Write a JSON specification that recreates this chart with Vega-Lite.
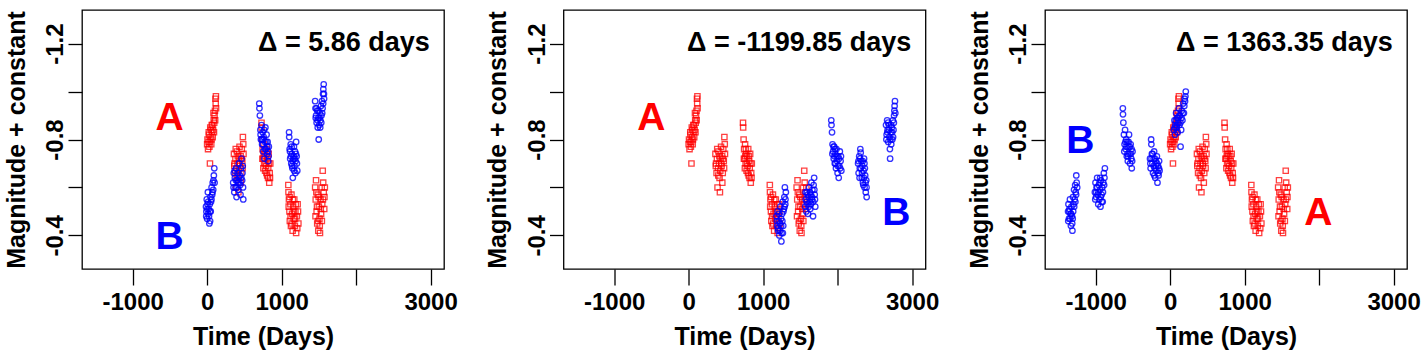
{
"$schema": "https://vega.github.io/schema/vega-lite/v6.json",
"padding": {"left": 3, "top": 9, "right": 2, "bottom": 2},
"background": "white",
"bounds": "flush",
"spacing": 119.5,
"config": {
 "view": {"stroke": "black", "strokeWidth": 1.3},
 "font": "Liberation Sans",
 "axis": {"grid": false, "domain": false, "tickColor": "black", "tickWidth": 1.3, "labelFont": "Liberation Sans", "labelFontSize": 24, "labelFontWeight": "bold", "labelColor": "black", "titleFont": "Liberation Sans", "titleFontSize": 25, "titleFontWeight": "bold", "titleColor": "black", "labelOverlap": false, "labelFlush": false},
 "axisX": {"tickSize": 16, "labelPadding": 24, "labelBaseline": "alphabetic", "labelAlign": "center", "titleBaseline": "alphabetic", "titleAlign": "center", "titleX": 181, "titleY": 75},
 "axisY": {"tickSize": 14, "labelAngle": 270, "labelAlign": "center", "labelBaseline": "alphabetic", "labelPadding": 5.3, "titleAngle": 270, "titleAlign": "center", "titleBaseline": "alphabetic", "titleX": -58, "titleY": 129.5}
},
"datasets": {
 "A": [
  {"t":0,"m":-0.78},{"t":5,"m":-0.80},{"t":12,"m":-0.76},{"t":18,"m":-0.79},{"t":25,"m":-0.82},{"t":30,"m":-0.77},{"t":38,"m":-0.70},{"t":45,"m":-0.81},{"t":50,"m":-0.84},{"t":58,"m":-0.80},{"t":65,"m":-0.83},{"t":72,"m":-0.86},{"t":80,"m":-0.84},{"t":88,"m":-0.88},{"t":95,"m":-0.87},{"t":100,"m":-0.90},{"t":105,"m":-0.92},{"t":112,"m":-0.97},{"t":115,"m":-0.95},{"t":120,"m":-0.93},
  {"t":22,"m":-0.83},{"t":35,"m":-0.79},{"t":42,"m":-0.85},{"t":55,"m":-0.78},{"t":62,"m":-0.86},{"t":75,"m":-0.81},{"t":85,"m":-0.91},{"t":92,"m":-0.83},{"t":108,"m":-0.88},{"t":118,"m":-0.98},
  {"t":360,"m":-0.74},{"t":368,"m":-0.70},{"t":375,"m":-0.66},{"t":380,"m":-0.72},{"t":388,"m":-0.60},{"t":395,"m":-0.68},{"t":400,"m":-0.75},{"t":408,"m":-0.70},{"t":415,"m":-0.64},{"t":420,"m":-0.58},{"t":428,"m":-0.72},{"t":435,"m":-0.77},{"t":442,"m":-0.69},{"t":450,"m":-0.73},{"t":458,"m":-0.66},{"t":465,"m":-0.76},{"t":472,"m":-0.71},{"t":480,"m":-0.81},{"t":488,"m":-0.74},
  {"t":365,"m":-0.69},{"t":384,"m":-0.76},{"t":398,"m":-0.65},{"t":412,"m":-0.73},{"t":425,"m":-0.67},{"t":438,"m":-0.70},{"t":452,"m":-0.62},{"t":462,"m":-0.72},{"t":476,"m":-0.68},{"t":485,"m":-0.78},
  {"t":730,"m":-0.87},{"t":732,"m":-0.85},{"t":738,"m":-0.80},{"t":745,"m":-0.76},{"t":752,"m":-0.72},{"t":758,"m":-0.78},{"t":765,"m":-0.70},{"t":772,"m":-0.74},{"t":778,"m":-0.67},{"t":785,"m":-0.73},{"t":792,"m":-0.69},{"t":800,"m":-0.76},{"t":806,"m":-0.65},{"t":812,"m":-0.71},{"t":820,"m":-0.68},{"t":826,"m":-0.74},{"t":834,"m":-0.62},{"t":840,"m":-0.66},{"t":848,"m":-0.70},
  {"t":742,"m":-0.72},{"t":755,"m":-0.68},{"t":768,"m":-0.76},{"t":782,"m":-0.70},{"t":796,"m":-0.66},{"t":808,"m":-0.73},{"t":818,"m":-0.64},{"t":830,"m":-0.70},{"t":844,"m":-0.64},{"t":760,"m":-0.73},
  {"t":1090,"m":-0.61},{"t":1092,"m":-0.58},{"t":1098,"m":-0.55},{"t":1105,"m":-0.50},{"t":1110,"m":-0.46},{"t":1118,"m":-0.53},{"t":1125,"m":-0.44},{"t":1132,"m":-0.57},{"t":1140,"m":-0.49},{"t":1148,"m":-0.42},{"t":1155,"m":-0.52},{"t":1162,"m":-0.47},{"t":1170,"m":-0.55},{"t":1178,"m":-0.44},{"t":1185,"m":-0.50},{"t":1195,"m":-0.41},{"t":1205,"m":-0.48},{"t":1215,"m":-0.53},{"t":1225,"m":-0.45},
  {"t":1095,"m":-0.52},{"t":1108,"m":-0.56},{"t":1120,"m":-0.48},{"t":1135,"m":-0.45},{"t":1150,"m":-0.55},{"t":1165,"m":-0.50},{"t":1180,"m":-0.47},{"t":1190,"m":-0.53},{"t":1210,"m":-0.43},{"t":1220,"m":-0.50},
  {"t":1450,"m":-0.60},{"t":1458,"m":-0.55},{"t":1462,"m":-0.63},{"t":1470,"m":-0.50},{"t":1478,"m":-0.45},{"t":1485,"m":-0.57},{"t":1492,"m":-0.42},{"t":1500,"m":-0.52},{"t":1508,"m":-0.47},{"t":1515,"m":-0.41},{"t":1522,"m":-0.55},{"t":1530,"m":-0.49},{"t":1538,"m":-0.60},{"t":1545,"m":-0.53},{"t":1552,"m":-0.67},{"t":1558,"m":-0.62},{"t":1565,"m":-0.58},{"t":1572,"m":-0.51},{"t":1580,"m":-0.60},
  {"t":1455,"m":-0.48},{"t":1466,"m":-0.58},{"t":1475,"m":-0.52},{"t":1488,"m":-0.46},{"t":1498,"m":-0.56},{"t":1512,"m":-0.44},{"t":1525,"m":-0.51},{"t":1540,"m":-0.46},{"t":1555,"m":-0.55},{"t":1575,"m":-0.56}
 ],
 "B1": [
  {"t":-15,"m":-0.52},{"t":-10,"m":-0.50},{"t":-5,"m":-0.55},{"t":0,"m":-0.47},{"t":5,"m":-0.53},{"t":10,"m":-0.58},{"t":15,"m":-0.49},{"t":22,"m":-0.51},{"t":30,"m":-0.45},{"t":38,"m":-0.50},{"t":45,"m":-0.56},{"t":52,"m":-0.54},{"t":60,"m":-0.60},{"t":68,"m":-0.57},{"t":75,"m":-0.62},{"t":82,"m":-0.59},{"t":90,"m":-0.65},{"t":96,"m":-0.68},{"t":100,"m":-0.62},
  {"t":-12,"m":-0.48},{"t":2,"m":-0.51},{"t":12,"m":-0.54},{"t":25,"m":-0.48},{"t":35,"m":-0.53},{"t":48,"m":-0.50},{"t":58,"m":-0.55},{"t":72,"m":-0.58},{"t":85,"m":-0.63},{"t":40,"m":-0.46},
  {"t":350,"m":-0.62},{"t":358,"m":-0.66},{"t":365,"m":-0.58},{"t":372,"m":-0.64},{"t":380,"m":-0.60},{"t":388,"m":-0.68},{"t":395,"m":-0.56},{"t":402,"m":-0.63},{"t":410,"m":-0.66},{"t":418,"m":-0.59},{"t":425,"m":-0.70},{"t":432,"m":-0.62},{"t":440,"m":-0.65},{"t":448,"m":-0.57},{"t":455,"m":-0.68},{"t":462,"m":-0.72},{"t":470,"m":-0.63},{"t":478,"m":-0.69},{"t":485,"m":-0.55},
  {"t":355,"m":-0.60},{"t":370,"m":-0.67},{"t":385,"m":-0.63},{"t":398,"m":-0.60},{"t":412,"m":-0.62},{"t":428,"m":-0.64},{"t":444,"m":-0.61},{"t":458,"m":-0.64},{"t":474,"m":-0.66},{"t":482,"m":-0.60},
  {"t":700,"m":-0.95},{"t":702,"m":-0.93},{"t":708,"m":-0.90},{"t":715,"m":-0.84},{"t":722,"m":-0.80},{"t":730,"m":-0.86},{"t":738,"m":-0.78},{"t":745,"m":-0.83},{"t":752,"m":-0.75},{"t":760,"m":-0.81},{"t":768,"m":-0.72},{"t":775,"m":-0.79},{"t":782,"m":-0.85},{"t":790,"m":-0.76},{"t":798,"m":-0.82},{"t":805,"m":-0.74},{"t":812,"m":-0.79},{"t":820,"m":-0.71},{"t":828,"m":-0.77},
  {"t":718,"m":-0.82},{"t":735,"m":-0.80},{"t":748,"m":-0.78},{"t":765,"m":-0.84},{"t":778,"m":-0.76},{"t":795,"m":-0.79},{"t":808,"m":-0.77},{"t":818,"m":-0.75},{"t":825,"m":-0.73},{"t":755,"m":-0.80},
  {"t":1100,"m":-0.83},{"t":1102,"m":-0.81},{"t":1108,"m":-0.76},{"t":1115,"m":-0.72},{"t":1122,"m":-0.78},{"t":1130,"m":-0.70},{"t":1138,"m":-0.74},{"t":1145,"m":-0.68},{"t":1150,"m":-0.64},{"t":1158,"m":-0.72},{"t":1165,"m":-0.77},{"t":1172,"m":-0.69},{"t":1180,"m":-0.75},{"t":1185,"m":-0.66},{"t":1188,"m":-0.71},{"t":1195,"m":-0.79},{"t":1202,"m":-0.73},{"t":1210,"m":-0.67},
  {"t":1112,"m":-0.75},{"t":1125,"m":-0.73},{"t":1135,"m":-0.77},{"t":1148,"m":-0.71},{"t":1162,"m":-0.73},{"t":1175,"m":-0.72},{"t":1192,"m":-0.74},{"t":1205,"m":-0.70},{"t":1140,"m":-0.69},{"t":1168,"m":-0.67},
  {"t":1450,"m":-0.96},{"t":1455,"m":-0.93},{"t":1462,"m":-0.90},{"t":1470,"m":-0.87},{"t":1478,"m":-0.92},{"t":1485,"m":-0.85},{"t":1492,"m":-0.89},{"t":1498,"m":-0.80},{"t":1505,"m":-0.86},{"t":1512,"m":-0.91},{"t":1520,"m":-0.88},{"t":1528,"m":-0.94},{"t":1535,"m":-0.90},{"t":1542,"m":-0.96},{"t":1550,"m":-0.93},{"t":1556,"m":-0.99},{"t":1560,"m":-1.01},{"t":1565,"m":-1.03},{"t":1570,"m":-0.97},
  {"t":1458,"m":-0.89},{"t":1468,"m":-0.93},{"t":1482,"m":-0.88},{"t":1495,"m":-0.92},{"t":1508,"m":-0.89},{"t":1518,"m":-0.85},{"t":1532,"m":-0.87},{"t":1545,"m":-0.91},{"t":1558,"m":-0.95},{"t":1568,"m":-0.99}
 ],
 "B2": [
  {"t":1180,"m":-0.48},{"t":1188,"m":-0.44},{"t":1195,"m":-0.50},{"t":1202,"m":-0.42},{"t":1210,"m":-0.46},{"t":1218,"m":-0.40},{"t":1225,"m":-0.45},{"t":1232,"m":-0.52},{"t":1240,"m":-0.47},{"t":1245,"m":-0.375},{"t":1248,"m":-0.41},{"t":1255,"m":-0.49},{"t":1262,"m":-0.54},{"t":1270,"m":-0.44},{"t":1278,"m":-0.51},{"t":1285,"m":-0.56},{"t":1292,"m":-0.60},{"t":1298,"m":-0.53},{"t":1305,"m":-0.58},
  {"t":1185,"m":-0.46},{"t":1198,"m":-0.43},{"t":1212,"m":-0.49},{"t":1228,"m":-0.42},{"t":1242,"m":-0.44},{"t":1258,"m":-0.46},{"t":1272,"m":-0.50},{"t":1288,"m":-0.52},{"t":1300,"m":-0.55},{"t":1265,"m":-0.41},
  {"t":1565,"m":-0.52},{"t":1572,"m":-0.55},{"t":1580,"m":-0.50},{"t":1588,"m":-0.58},{"t":1595,"m":-0.53},{"t":1602,"m":-0.49},{"t":1610,"m":-0.56},{"t":1618,"m":-0.60},{"t":1625,"m":-0.54},{"t":1632,"m":-0.51},{"t":1640,"m":-0.57},{"t":1648,"m":-0.62},{"t":1655,"m":-0.55},{"t":1662,"m":-0.59},{"t":1670,"m":-0.48},{"t":1678,"m":-0.61},{"t":1685,"m":-0.64},{"t":1692,"m":-0.57},{"t":1700,"m":-0.52},
  {"t":1570,"m":-0.58},{"t":1585,"m":-0.54},{"t":1598,"m":-0.57},{"t":1612,"m":-0.52},{"t":1628,"m":-0.58},{"t":1642,"m":-0.53},{"t":1658,"m":-0.56},{"t":1672,"m":-0.54},{"t":1688,"m":-0.59},{"t":1696,"m":-0.55},
  {"t":1915,"m":-0.88},{"t":1918,"m":-0.86},{"t":1925,"m":-0.83},{"t":1932,"m":-0.78},{"t":1940,"m":-0.75},{"t":1948,"m":-0.72},{"t":1955,"m":-0.77},{"t":1962,"m":-0.70},{"t":1970,"m":-0.74},{"t":1978,"m":-0.68},{"t":1985,"m":-0.76},{"t":1992,"m":-0.71},{"t":2000,"m":-0.66},{"t":2008,"m":-0.73},{"t":2015,"m":-0.64},{"t":2022,"m":-0.69},{"t":2030,"m":-0.75},{"t":2040,"m":-0.71},{"t":2050,"m":-0.67},
  {"t":1930,"m":-0.74},{"t":1945,"m":-0.77},{"t":1958,"m":-0.73},{"t":1972,"m":-0.70},{"t":1988,"m":-0.73},{"t":2002,"m":-0.69},{"t":2018,"m":-0.72},{"t":2035,"m":-0.68},{"t":2045,"m":-0.73},{"t":1965,"m":-0.76},
  {"t":2275,"m":-0.70},{"t":2282,"m":-0.66},{"t":2290,"m":-0.73},{"t":2298,"m":-0.68},{"t":2305,"m":-0.76},{"t":2310,"m":-0.745},{"t":2318,"m":-0.71},{"t":2325,"m":-0.64},{"t":2332,"m":-0.69},{"t":2340,"m":-0.62},{"t":2345,"m":-0.61},{"t":2348,"m":-0.67},{"t":2355,"m":-0.72},{"t":2360,"m":-0.70},{"t":2362,"m":-0.60},{"t":2370,"m":-0.65},{"t":2378,"m":-0.58},{"t":2385,"m":-0.63},{"t":2390,"m":-0.56},
  {"t":2280,"m":-0.71},{"t":2295,"m":-0.64},{"t":2312,"m":-0.68},{"t":2328,"m":-0.66},{"t":2338,"m":-0.71},{"t":2352,"m":-0.64},{"t":2366,"m":-0.68},{"t":2375,"m":-0.62},{"t":2388,"m":-0.60},{"t":2302,"m":-0.72},
  {"t":2650,"m":-0.86},{"t":2658,"m":-0.82},{"t":2665,"m":-0.88},{"t":2672,"m":-0.84},{"t":2680,"m":-0.79},{"t":2688,"m":-0.86},{"t":2695,"m":-0.81},{"t":2702,"m":-0.76},{"t":2705,"m":-0.72},{"t":2712,"m":-0.83},{"t":2720,"m":-0.78},{"t":2728,"m":-0.85},{"t":2735,"m":-0.80},{"t":2742,"m":-0.88},{"t":2750,"m":-0.84},{"t":2758,"m":-0.90},{"t":2765,"m":-0.94},{"t":2770,"m":-0.96},{"t":2775,"m":-0.91},
  {"t":2655,"m":-0.80},{"t":2668,"m":-0.83},{"t":2678,"m":-0.87},{"t":2692,"m":-0.84},{"t":2708,"m":-0.80},{"t":2718,"m":-0.86},{"t":2732,"m":-0.83},{"t":2745,"m":-0.81},{"t":2755,"m":-0.87},{"t":2762,"m":-0.92}
 ],
 "B3": [
  {"t":-1370,"m":-0.50},{"t":-1365,"m":-0.53},{"t":-1358,"m":-0.47},{"t":-1352,"m":-0.51},{"t":-1345,"m":-0.55},{"t":-1338,"m":-0.49},{"t":-1332,"m":-0.44},{"t":-1325,"m":-0.52},{"t":-1318,"m":-0.48},{"t":-1312,"m":-0.42},{"t":-1305,"m":-0.56},{"t":-1298,"m":-0.53},{"t":-1290,"m":-0.59},{"t":-1282,"m":-0.55},{"t":-1275,"m":-0.61},{"t":-1268,"m":-0.58},{"t":-1260,"m":-0.65},{"t":-1255,"m":-0.62},{"t":-1248,"m":-0.60},
  {"t":-1368,"m":-0.46},{"t":-1355,"m":-0.50},{"t":-1342,"m":-0.47},{"t":-1328,"m":-0.49},{"t":-1315,"m":-0.45},{"t":-1302,"m":-0.50},{"t":-1288,"m":-0.52},{"t":-1272,"m":-0.54},{"t":-1262,"m":-0.57},{"t":-1308,"m":-0.47},
  {"t":-1010,"m":-0.58},{"t":-1002,"m":-0.62},{"t":-995,"m":-0.56},{"t":-988,"m":-0.60},{"t":-980,"m":-0.64},{"t":-972,"m":-0.57},{"t":-965,"m":-0.53},{"t":-958,"m":-0.61},{"t":-950,"m":-0.55},{"t":-942,"m":-0.59},{"t":-935,"m":-0.52},{"t":-928,"m":-0.63},{"t":-920,"m":-0.57},{"t":-912,"m":-0.60},{"t":-905,"m":-0.54},{"t":-898,"m":-0.62},{"t":-890,"m":-0.66},{"t":-882,"m":-0.64},{"t":-876,"m":-0.68},
  {"t":-1005,"m":-0.55},{"t":-992,"m":-0.58},{"t":-978,"m":-0.60},{"t":-962,"m":-0.58},{"t":-948,"m":-0.62},{"t":-932,"m":-0.56},{"t":-918,"m":-0.54},{"t":-902,"m":-0.58},{"t":-886,"m":-0.61},{"t":-940,"m":-0.64},
  {"t":-635,"m":-0.93},{"t":-633,"m":-0.905},{"t":-628,"m":-0.87},{"t":-620,"m":-0.82},{"t":-612,"m":-0.78},{"t":-605,"m":-0.84},{"t":-598,"m":-0.76},{"t":-590,"m":-0.80},{"t":-582,"m":-0.73},{"t":-575,"m":-0.79},{"t":-568,"m":-0.71},{"t":-560,"m":-0.77},{"t":-552,"m":-0.82},{"t":-545,"m":-0.74},{"t":-538,"m":-0.70},{"t":-530,"m":-0.78},{"t":-522,"m":-0.72},{"t":-515,"m":-0.68},{"t":-505,"m":-0.75},
  {"t":-615,"m":-0.75},{"t":-600,"m":-0.79},{"t":-586,"m":-0.77},{"t":-572,"m":-0.74},{"t":-558,"m":-0.79},{"t":-542,"m":-0.77},{"t":-528,"m":-0.74},{"t":-518,"m":-0.76},{"t":-510,"m":-0.71},{"t":-565,"m":-0.73},
  {"t":-270,"m":-0.72},{"t":-262,"m":-0.68},{"t":-255,"m":-0.80},{"t":-252,"m":-0.78},{"t":-245,"m":-0.74},{"t":-238,"m":-0.70},{"t":-230,"m":-0.66},{"t":-222,"m":-0.72},{"t":-215,"m":-0.75},{"t":-208,"m":-0.68},{"t":-200,"m":-0.64},{"t":-192,"m":-0.71},{"t":-185,"m":-0.67},{"t":-178,"m":-0.73},{"t":-170,"m":-0.62},{"t":-162,"m":-0.69},{"t":-155,"m":-0.65},{"t":-148,"m":-0.71},{"t":-142,"m":-0.67},
  {"t":-265,"m":-0.70},{"t":-250,"m":-0.72},{"t":-235,"m":-0.74},{"t":-220,"m":-0.69},{"t":-205,"m":-0.72},{"t":-190,"m":-0.69},{"t":-175,"m":-0.70},{"t":-160,"m":-0.66},{"t":-150,"m":-0.68},{"t":-212,"m":-0.65},
  {"t":50,"m":-0.84},{"t":58,"m":-0.88},{"t":65,"m":-0.82},{"t":72,"m":-0.86},{"t":80,"m":-0.91},{"t":88,"m":-0.85},{"t":95,"m":-0.89},{"t":102,"m":-0.83},{"t":110,"m":-0.87},{"t":118,"m":-0.93},{"t":125,"m":-0.86},{"t":132,"m":-0.90},{"t":140,"m":-0.77},{"t":148,"m":-0.84},{"t":155,"m":-0.92},{"t":165,"m":-0.88},{"t":175,"m":-0.95},{"t":185,"m":-0.91},{"t":195,"m":-0.97},{"t":205,"m":-0.98},{"t":210,"m":-1.00},
  {"t":62,"m":-0.85},{"t":76,"m":-0.88},{"t":92,"m":-0.86},{"t":105,"m":-0.89},{"t":122,"m":-0.90},{"t":138,"m":-0.87},{"t":152,"m":-0.89},{"t":170,"m":-0.91},{"t":190,"m":-0.94},{"t":200,"m":-0.96}
 ],
 "lab": [
  {"p":1,"t":-505,"m":-0.84,"k":"A"},{"p":1,"t":-505,"m":-0.343,"k":"B"},
  {"p":2,"t":-500,"m":-0.84,"k":"A"},{"p":2,"t":2790,"m":-0.443,"k":"B"},
  {"p":3,"t":-1205,"m":-0.745,"k":"B"},{"p":3,"t":1988,"m":-0.443,"k":"A"}
 ],
 "dl": [
  {"p":1,"t":2990,"m":-1.169,"s":"Δ = 5.86 days"},
  {"p":2,"t":2990,"m":-1.169,"s":"Δ = -1199.85 days"},
  {"p":3,"t":2990,"m":-1.169,"s":"Δ = 1363.35 days"}
 ]
},
"hconcat": [
 {"width": 362, "height": 259,
  "encoding": {
   "x": {"field": "t", "type": "quantitative", "title": "Time (Days)", "scale": {"domain": [-1680, 3180], "nice": false, "zero": false}, "axis": {"values": [-1000, 0, 1000, 2000, 3000], "labelExpr": "datum.value == 2000 ? '' : (datum.value < 0 ? '-' : '') + format(abs(datum.value), 'd')"}},
   "y": {"field": "m", "type": "quantitative", "title": "Magnitude + constant", "scale": {"domain": [-1.34, -0.26], "reverse": true, "nice": false, "zero": false}, "axis": {"values": [-1.2, -1, -0.8, -0.6, -0.4], "labelExpr": "datum.value == -1 || datum.value == -0.6 ? '' : '-' + format(abs(datum.value), '.1f')"}}
  },
  "layer": [
   {"data": {"name": "A"}, "mark": {"type": "point", "shape": "square", "filled": false, "size": 28, "strokeWidth": 1.3, "color": "#ff0000", "opacity": 0.75}},
   {"data": {"name": "B1"}, "mark": {"type": "point", "shape": "circle", "filled": false, "size": 30, "strokeWidth": 1.3, "color": "#0000ff", "opacity": 0.8}},
   {"data": {"name": "lab"}, "transform": [{"filter": "datum.p == 1"}], "mark": {"type": "text", "fontSize": 39, "fontWeight": "bold", "align": "center", "baseline": "alphabetic"}, "encoding": {"text": {"field": "k"}, "color": {"field": "k", "type": "nominal", "scale": {"domain": ["A", "B"], "range": ["#ff0000", "#0000ff"]}, "legend": null}}},
   {"data": {"name": "dl"}, "transform": [{"filter": "datum.p == 1"}], "mark": {"type": "text", "fontSize": 27, "fontWeight": "bold", "align": "right", "baseline": "alphabetic", "color": "black"}, "encoding": {"text": {"field": "s"}}}
  ]},
 {"width": 362, "height": 259,
  "encoding": {
   "x": {"field": "t", "type": "quantitative", "title": "Time (Days)", "scale": {"domain": [-1680, 3180], "nice": false, "zero": false}, "axis": {"values": [-1000, 0, 1000, 2000, 3000], "labelExpr": "datum.value == 2000 ? '' : (datum.value < 0 ? '-' : '') + format(abs(datum.value), 'd')"}},
   "y": {"field": "m", "type": "quantitative", "title": "Magnitude + constant", "scale": {"domain": [-1.34, -0.26], "reverse": true, "nice": false, "zero": false}, "axis": {"values": [-1.2, -1, -0.8, -0.6, -0.4], "labelExpr": "datum.value == -1 || datum.value == -0.6 ? '' : '-' + format(abs(datum.value), '.1f')"}}
  },
  "layer": [
   {"data": {"name": "A"}, "mark": {"type": "point", "shape": "square", "filled": false, "size": 28, "strokeWidth": 1.3, "color": "#ff0000", "opacity": 0.75}},
   {"data": {"name": "B2"}, "mark": {"type": "point", "shape": "circle", "filled": false, "size": 30, "strokeWidth": 1.3, "color": "#0000ff", "opacity": 0.8}},
   {"data": {"name": "lab"}, "transform": [{"filter": "datum.p == 2"}], "mark": {"type": "text", "fontSize": 39, "fontWeight": "bold", "align": "center", "baseline": "alphabetic"}, "encoding": {"text": {"field": "k"}, "color": {"field": "k", "type": "nominal", "scale": {"domain": ["A", "B"], "range": ["#ff0000", "#0000ff"]}, "legend": null}}},
   {"data": {"name": "dl"}, "transform": [{"filter": "datum.p == 2"}], "mark": {"type": "text", "fontSize": 27, "fontWeight": "bold", "align": "right", "baseline": "alphabetic", "color": "black"}, "encoding": {"text": {"field": "s"}}}
  ]},
 {"width": 362, "height": 259,
  "encoding": {
   "x": {"field": "t", "type": "quantitative", "title": "Time (Days)", "scale": {"domain": [-1680, 3180], "nice": false, "zero": false}, "axis": {"values": [-1000, 0, 1000, 2000, 3000], "labelExpr": "datum.value == 2000 ? '' : (datum.value < 0 ? '-' : '') + format(abs(datum.value), 'd')"}},
   "y": {"field": "m", "type": "quantitative", "title": "Magnitude + constant", "scale": {"domain": [-1.34, -0.26], "reverse": true, "nice": false, "zero": false}, "axis": {"values": [-1.2, -1, -0.8, -0.6, -0.4], "labelExpr": "datum.value == -1 || datum.value == -0.6 ? '' : '-' + format(abs(datum.value), '.1f')"}}
  },
  "layer": [
   {"data": {"name": "A"}, "mark": {"type": "point", "shape": "square", "filled": false, "size": 28, "strokeWidth": 1.3, "color": "#ff0000", "opacity": 0.75}},
   {"data": {"name": "B3"}, "mark": {"type": "point", "shape": "circle", "filled": false, "size": 30, "strokeWidth": 1.3, "color": "#0000ff", "opacity": 0.8}},
   {"data": {"name": "lab"}, "transform": [{"filter": "datum.p == 3"}], "mark": {"type": "text", "fontSize": 39, "fontWeight": "bold", "align": "center", "baseline": "alphabetic"}, "encoding": {"text": {"field": "k"}, "color": {"field": "k", "type": "nominal", "scale": {"domain": ["A", "B"], "range": ["#ff0000", "#0000ff"]}, "legend": null}}},
   {"data": {"name": "dl"}, "transform": [{"filter": "datum.p == 3"}], "mark": {"type": "text", "fontSize": 27, "fontWeight": "bold", "align": "right", "baseline": "alphabetic", "color": "black"}, "encoding": {"text": {"field": "s"}}}
  ]}
]
}
